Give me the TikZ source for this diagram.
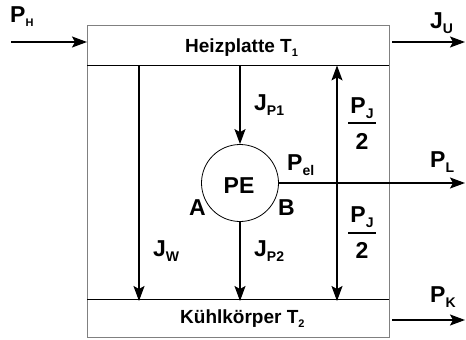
\documentclass[tikz,border=0pt]{standalone}
\usepackage{fontspec}
\setmainfont{Liberation Sans}
\usetikzlibrary{arrows.meta}
\newcommand\lsub[2]{#1\raisebox{-5pt}{\fontsize{14}{14}\selectfont\bfseries #2}}
\newcommand\ssub[2]{#1\raisebox{-4pt}{\fontsize{11}{11}\selectfont\bfseries #2}}
\begin{document}
\begin{tikzpicture}[x=1pt,y=-1pt,
  arr/.style={-{Stealth[length=15pt,width=11pt,inset=3pt]}, line width=1.5pt},
  lbl/.style={font=\fontsize{23}{23}\selectfont\bfseries, inner sep=0pt, anchor=base west},
  ttl/.style={font=\fontsize{19}{19}\selectfont\bfseries, inner sep=0pt, anchor=base west},
  plate/.style={minimum width=302pt, inner sep=0pt, anchor=north west}]
\useasboundingbox (0,0) rectangle (466,340);
% outer frame
\node[draw=gray, line width=1.2pt, minimum width=302pt, minimum height=312pt, inner sep=0pt, anchor=north west] (outer) at (87,25) {};
\node[plate, minimum height=40pt] (heiz) at (87,25) {};
\node[plate, minimum height=38pt] (kuehl) at (87,299) {};
\draw[line width=0.9pt] (heiz.south west) -- (heiz.south east);
\draw[line width=0.9pt] (kuehl.north west) -- (kuehl.north east);
\node[ttl] (heiztxt) at (185,52) {Heizplatte \ssub{T}{1}};
\node[ttl] (kuehltxt) at (180,323) {Kühlkörper \ssub{T}{2}};
% PE
\node[draw, circle, line width=0.8pt, minimum size=77pt, inner sep=0pt] (pe) at (240,183) {};
\node[lbl, anchor=base] (petxt) at (239,193) {PE};
\node[lbl] (A) at (189,215) {A};
\node[lbl] (B) at (278,215) {B};
% coordinates
\coordinate (ph0) at (11,42);
\coordinate (ju0) at (392,42);
\coordinate (ju1) at (465,42);
\coordinate (jw) at (139,0);
\coordinate (pl1) at (465,183);
\coordinate (pj) at (337,183);
\coordinate (pk0) at (392,320);
\coordinate (pk1) at (465,320);
% arrows
\draw[arr] (ph0) -- (ph0 -| outer.west);
\draw[arr] (ju0) -- (ju1);
\draw[arr] (jw |- heiz.south) -- ([yshift=-2pt]jw |- kuehl.north);
\draw[arr] (pe.north |- heiz.south) -- (pe.north);
\draw[arr] (pe.south) -- ([yshift=-2pt]pe.south |- kuehl.north);
\draw[arr] (pe.east) -- (pl1);
\draw[arr] (pj) -- (pj |- heiz.south);
\draw[arr] (pj) -- ([yshift=-2pt]pj |- kuehl.north);
\draw[arr] (pk0) -- (pk1);
% labels
\node[lbl] (lPH) at (10,23) {\ssub{P}{H}};
\node[lbl] (lJU) at (430,28) {\lsub{J}{U}};
\node[lbl] (lJP1) at (254,110) {\lsub{J}{P1}};
\node[lbl] (lPel) at (287,170) {\lsub{P}{el}};
\node[lbl] (lPL) at (430,167) {\lsub{P}{L}};
\node[lbl] (lJW) at (153,256) {\lsub{J}{W}};
\node[lbl] (lJP2) at (254,256) {\lsub{J}{P2}};
\node[lbl] (lPK) at (430,302) {\lsub{P}{K}};
% fractions
\node[lbl, anchor=base] (f1n) at (362,113) {\lsub{P}{J}};
\node[lbl, anchor=base] (f1d) at (362,149) {2};
\draw[line width=1.3pt] (348,123) -- (376,123);
\node[lbl, anchor=base] (f2n) at (362,222) {\lsub{P}{J}};
\node[lbl, anchor=base] (f2d) at (362,258) {2};
\draw[line width=1.3pt] (348,233) -- (376,233);
\end{tikzpicture}
\end{document}
